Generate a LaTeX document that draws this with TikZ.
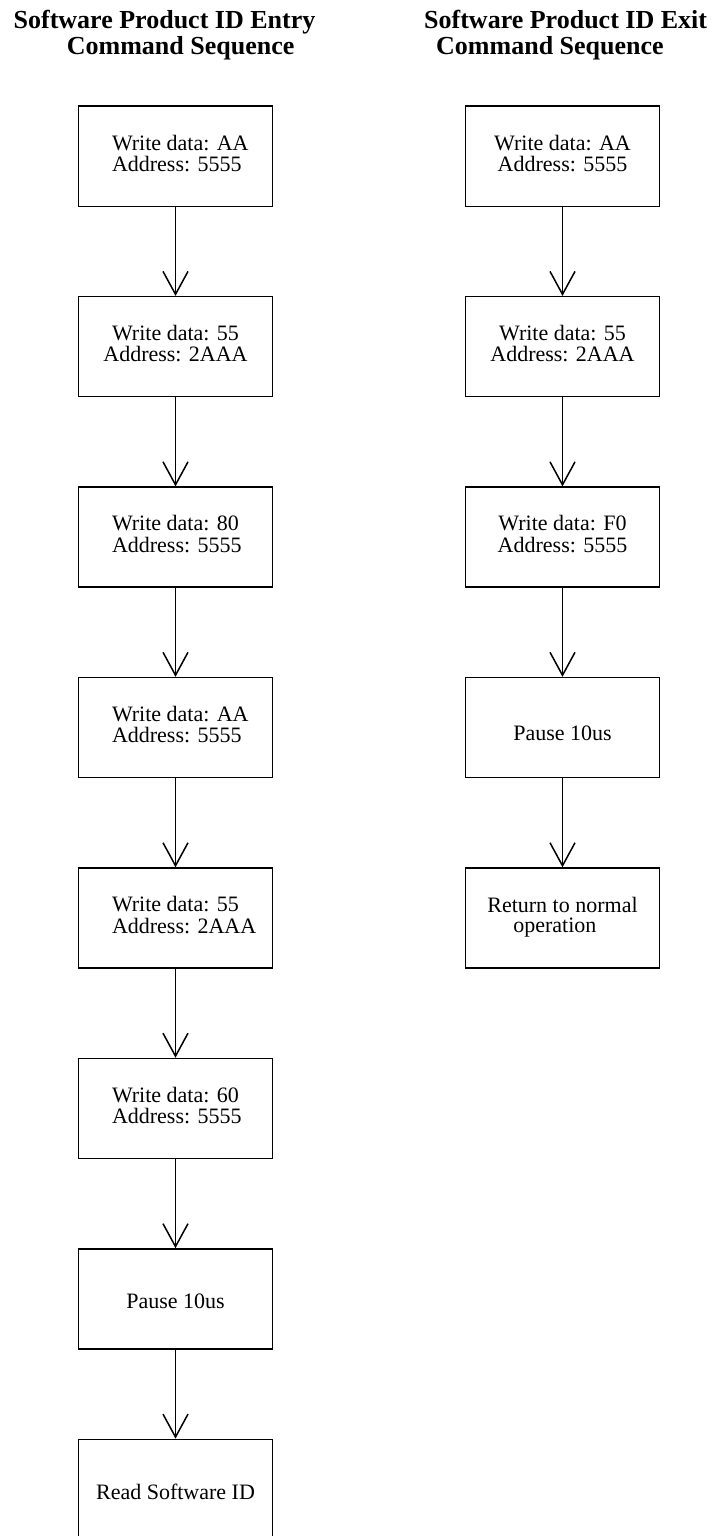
\documentclass[tikz,border=0pt]{standalone}
\usepackage{fontspec}
\setmainfont{Liberation Serif}
\usetikzlibrary{arrows.meta}
% fixed-width cell so the two lines start at the same left edge
\newcommand\leftcell[1]{\makebox[127pt][l]{#1}}
\begin{document}
\begin{tikzpicture}[x=1pt,y=-1pt,
  stepbox/.style={draw, line width=1.5pt, minimum width=194pt, minimum height=100pt,
                  inner sep=0pt, font=\fontsize{22}{20.7}\selectfont},
  single/.style={text height=20pt, text depth=0pt},
  flow/.style={line width=1.5pt, -{Straight Barb[length=23pt,width=25pt]}},
  heading/.style={anchor=base west, inner sep=0pt, font=\fontsize{26}{26}\selectfont\bfseries}]
\useasboundingbox (0,0) rectangle (715,1536);
\clip (0,0) rectangle (715,1536);

% headings
\node[heading] (hl1) at (13.5,28.3) {Software Product ID Entry};
\node[heading] (hl2) at (66.7,55) {Command Sequence};
\node[heading] (hr1) at (424,28.3) {Software Product ID Exit};
\node[heading] (hr2) at (436,55) {Command Sequence};

% entry sequence
\node[stepbox] (e1) at (175.5,156.25) {\begin{tabular}{@{}l@{}}\leftcell{Write data: AA}\\\leftcell{Address: 5555}\end{tabular}};
\node[stepbox] (e2) at (175.5,346.7) {\begin{tabular}{@{}c@{}}Write data: 55\\Address: 2AAA\end{tabular}};
\node[stepbox] (e3) at (175.5,537.15) {\begin{tabular}{@{}l@{}}\leftcell{Write data: 80}\\\leftcell{Address: 5555}\end{tabular}};
\node[stepbox] (e4) at (175.5,727.6) {\begin{tabular}{@{}l@{}}\leftcell{Write data: AA}\\\leftcell{Address: 5555}\end{tabular}};
\node[stepbox] (e5) at (175.5,918.05) {\begin{tabular}{@{}l@{}}\leftcell{Write data: 55}\\\leftcell{Address: 2AAA}\end{tabular}};
\node[stepbox] (e6) at (175.5,1108.5) {\begin{tabular}{@{}l@{}}\leftcell{Write data: 60}\\\leftcell{Address: 5555}\end{tabular}};
\node[stepbox,single] (e7) at (175.5,1298.95) {Pause 10us};
\node[stepbox,single] (e8) at (175.5,1489.4) {Read Software ID};

% exit sequence
\node[stepbox] (x1) at (562.5,156.25) {\begin{tabular}{@{}c@{}}Write data: AA\\Address: 5555\end{tabular}};
\node[stepbox] (x2) at (562.5,346.7) {\begin{tabular}{@{}c@{}}Write data: 55\\Address: 2AAA\end{tabular}};
\node[stepbox] (x3) at (562.5,537.15) {\begin{tabular}{@{}c@{}}Write data: F0\\Address: 5555\end{tabular}};
\node[stepbox,single,text height=25pt] (x4) at (562.5,727.6) {Pause 10us};
\node[stepbox] (x5) at (562.5,918.05) {\begin{tabular}{@{}l@{}}Return to normal\\\hspace*{26pt}operation\end{tabular}};

% connectors
\foreach \a/\b in {e1/e2,e2/e3,e3/e4,e4/e5,e5/e6,e6/e7,e7/e8,x1/x2,x2/x3,x3/x4,x4/x5}
  \draw[flow] (\a.south) -- (\b.north);
\end{tikzpicture}
\end{document}
